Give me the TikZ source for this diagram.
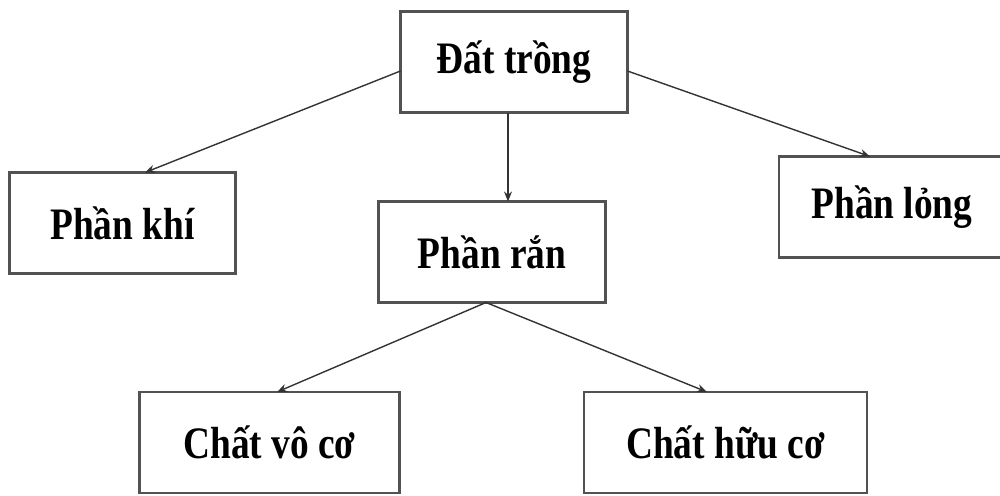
\documentclass[tikz,border=0pt]{standalone}
\usepackage{fontspec}
\setmainfont{Liberation Serif}[FakeStretch=0.83]
\usetikzlibrary{arrows.meta}
\tikzset{
  box/.style={draw=black!68, line width=2.2pt, rectangle, inner sep=0pt, outer sep=0pt,
    minimum height=101pt, align=center,
    font=\fontsize{45}{50}\selectfont\bfseries},
  conn/.style={draw=black!80, line width=1.4pt, -{Stealth[length=10pt,width=8pt]}}
}
\begin{document}
\begin{tikzpicture}[x=1pt,y=-1pt]
\useasboundingbox (0,0) rectangle (1000,495);
\clip (0,0) rectangle (1000,495);
\node[box, minimum width=227pt] (top)  at (514,62)    {Đất trồng};
\node[box, minimum width=226pt] (khi)  at (122.5,223) {Phần khí};
\node[box, minimum width=227pt] (ran)  at (492,252)   {Phần rắn};
\node[box, minimum width=226pt] (long) at (892,207)   {Phần lỏng};
\node[box, minimum width=260pt] (vo)   at (269.5,442.5) {Chất vô cơ};
\node[box, minimum width=283pt] (huu)  at (725.5,442.5) {Chất hữu cơ};
\draw[conn] ([yshift=-9pt]top.west) -- ([xshift=22.5pt]khi.north);
\draw[conn] ([xshift=-6pt]top.south) -- ([xshift=16pt]ran.north);
\draw[conn] ([yshift=-9pt]top.east) -- ([xshift=-22pt]long.north);
\draw[conn] ([xshift=-6pt]ran.south) -- ([xshift=7.5pt]vo.north);
\draw[conn] ([xshift=-6pt]ran.south) -- ([xshift=-18.5pt]huu.north);
\end{tikzpicture}
\end{document}
